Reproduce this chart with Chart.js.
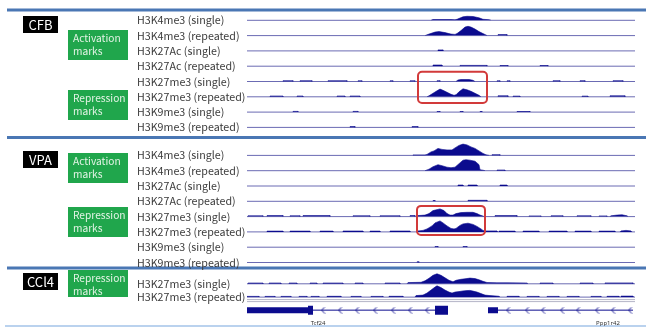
<!DOCTYPE html>
<html>
<head>
<meta charset="utf-8">
<script src="https://cdn.jsdelivr.net/npm/chart.js@4.4.1/dist/chart.umd.min.js"></script>
<style>
  html, body { margin: 0; padding: 0; background: #fff; }
  canvas { display: block; }
</style>
</head>
<body>
<canvas id="tracks" width="646" height="327"></canvas>
<script>
// Signal tracks, genomic position in kb (0-194).
// [x, h] = profile vertex, [start, end, h] = short flat block
const cfbK4Single = [[92,0],[93,0.8],[102,0.8],[104,0.5],[105,1],[108,3.5],[110,4],[113,3.8],[116,2.5],[118,1],[121,0.6],[122,0]];
const cfbK4Repeated = [[89,0],[91,1.5],[94,3.5],[96,4],[99,3],[102,1.5],[104,1.2],[105,2],[107,5],[109,8.5],[110.5,9.3],[112,8.5],[114,6.5],[116,4],[118,2],[119.5,0.6],[120,0],[125.5,130,1]];
const cfbK27acSingle = [[95.5,98,1]];
const cfbK27acRepeated = [[93,97.5,1.2],[106.5,120,0.8],[126.5,130.5,0.7],[146.5,150.5,0.7]];
const cfbK27me3Single = [[18,23,0.8],[26.5,32.5,0.8],[40.5,50,0.8],[55.5,57.5,0.7],[71.5,73,0.7],[81.5,84,0.7],[95,96.5,0.8],[104.5,0],[105.5,1.5],[107,2],[111,2],[113,1.2],[114,0],[125,126.5,0.7],[130,131.5,0.7],[153,156.5,0.8],[166.5,169,0.8],[183,188,0.8]];
const cfbK27me3Repeated = [[11.5,18,0.8],[25,28,0.8],[45,49,0.8],[51.5,56.5,0.8],[90,0],[91,1],[93,3.5],[95,6],[96.5,7.7],[98,6.5],[100,4.5],[102,2.5],[103.5,1.5],[104.5,2],[106,5],[108,8],[110,7],[112,5.5],[114,3.5],[116,1.5],[117,0],[125.5,130.5,1],[133,136.5,0.7],[167.5,170.5,0.7],[181.5,189,1]];
const cfbK9Single = [[23,25.5,0.7],[53,55.5,0.7],[95,96.5,0.6],[106.5,108,0.6],[116.5,117.5,0.6],[135,141.5,0.6]];
const cfbK9Repeated = [[51.5,54,0.8],[82.5,85.5,0.8]];

const vpaK4Single = [[83,0],[83,0.5],[89,0.5],[90,1],[92,3.5],[93.5,4.5],[95.5,7],[97.5,6],[100,5.5],[102.5,5.5],[104,7.5],[106,10],[108,11.3],[110,10.5],[112,8.5],[114,7],[116,4.5],[118,2],[119.5,0.6],[121,0],[122.5,126.5,0.7]];
const vpaK4Repeated = [[89,0],[91,1.5],[93,4],[95.5,6],[97.5,5],[100,3.5],[102,3],[104,3.5],[106,7],[108,10.5],[109.5,11],[111.5,10.5],[114,9.5],[116,6],[116.5,1],[118,0.5],[119,0],[125,129,0.7]];
const vpaK27acSingle = [[105.5,108,1],[110.5,115,1],[126.5,130,1]];
const vpaK27acRepeated = [[93,94,0.8],[110.5,120,1]];
const vpaK27me3Single = [[0.5,8,0.8],[10,18,1],[21.5,26.5,0.8],[28,41.5,1],[53,61.5,0.8],[66.5,76.5,0.8],[81.5,84,1],[85,0],[85.5,1],[89,1.5],[91,3],[93,6],[96.5,7.7],[98.5,6],[100,3],[101.5,1.5],[103,1.5],[104.5,3],[107,4],[110,4.3],[113,4.3],[115,3],[116.5,1.5],[118,0.5],[118.5,0],[124,135,1],[141,147,0.7],[152,158,0.8],[165,172,0.8],[176,180,0.7],[181.5,0],[182,0.8],[185,1.5],[187.5,1.8],[190,0.8],[190.5,0]];
const vpaK27me3Repeated = [[10,18,0.8],[21.5,31.5,0.8],[36.5,43,0.8],[48,58,0.9],[61.5,66.5,0.8],[71.5,81.5,0.9],[85,0],[85.5,1],[88,1.5],[90,3],[92.5,6],[94,9],[96.5,11],[98,9],[100,6],[102,3.5],[103.5,3],[104.5,3.5],[106.5,6.5],[108,8],[110.5,8.7],[113,7.5],[115,5.5],[117,3],[118,1.5],[119,1],[125,1],[125.5,0],[126,134,0.8],[138,146,0.8],[151,160,0.8],[164,172,0.8],[176,184,0.8],[186.5,0],[187,1],[189.5,1.5],[192,1],[192.5,0]];
const vpaK9Single = [[94,95.5,0.7],[108,110,0.7]];
const vpaK9Repeated = [[85,86,0.7]];

const cclK27me3Single = [[0.5,8,0.8],[11,17,0.8],[21,25,0.8],[31.5,35,0.8],[38,48,0.8],[54,58,0.8],[69,76.5,0.8],[80,0],[80.5,1.2],[87,1.5],[89,3],[91,5.5],[93,8.5],[95,10],[97,8.5],[99,6],[101,3.5],[103,2],[104.5,3.5],[107,4.5],[109,5],[111.5,5.7],[114,5.2],[116,4],[118,2.5],[120,1.3],[125,1],[130,1],[140,0.8],[140.5,0],[146.5,153,0.8],[166.5,173,0.8],[179,193,0.9]];
const cclK27me3Repeated = [[0,6,0.7],[9,14,0.7],[17,22,0.7],[26,30,0.7],[32,36,0.7],[40,47,0.8],[52,57,0.7],[62,68,0.7],[71,78,0.8],[84,0],[84.5,1.5],[88,2],[90,4],[92,7],[94,10],[95,11.3],[97,9.5],[99,7],[101,5],[102.5,4],[104,5],[106,5.5],[108,6.2],[110,6.5],[111.5,6.7],[113,6],[115,5],[117,3.5],[119,2],[121.5,1.5],[124,1.2],[126,0.8],[126.5,0],[130,136,0.8],[140,146,0.7],[150,156,0.7],[160,166,0.7],[172,177,0.7],[180,186,0.8],[187,193,1]];

// gene models
const geneNames = ['Tcf24', 'Ppp1r42'];
const geneSpans = [[0, 100.5], [120.5, 193]];
const geneLabelX = [35.5, 180.5];
const utrExons = [[0, 30.5], [120.5, 125.5]];
const cdsExons = [[30.5, 33], [94, 100.5]];
const strandMarks = [38, 46.5, 55, 64, 73, 81.5, 90, 130.5, 140, 148, 157.5, 165.5, 175, 183, 191.5];

// labels
const conditions = ['CFB', 'VPA', 'CCl4'];
const markLabels = ['H3K4me3 (single)', 'H3K4me3 (repeated)', 'H3K27Ac (single)', 'H3K27Ac (repeated)',
  'H3K27me3 (single)', 'H3K27me3 (repeated)', 'H3K9me3 (single)', 'H3K9me3 (repeated)'];
const cclLabels = ['H3K27me3 (single)', 'H3K27me3 (repeated)'];
const highlightX = [[85.5, 120], [85, 119]];

const navy = '#0b0b8e';
const rowH = 15.3;

const cfbTracks = [cfbK4Single, cfbK4Repeated, cfbK27acSingle, cfbK27acRepeated, cfbK27me3Single, cfbK27me3Repeated, cfbK9Single, cfbK9Repeated];
const vpaTracks = [vpaK4Single, vpaK4Repeated, vpaK27acSingle, vpaK27acRepeated, vpaK27me3Single, vpaK27me3Repeated, vpaK9Single, vpaK9Repeated];
const cclTracks = [cclK27me3Single, cclK27me3Repeated];

function toPoints(track) {
  const pts = [];
  track.forEach(d => {
    if (d.length === 3) {
      pts.push({x: d[0], y: 0}, {x: d[0], y: d[2]}, {x: d[1], y: d[2]}, {x: d[1], y: 0});
    } else {
      pts.push({x: d[0], y: d[1]});
    }
  });
  return pts.sort((a, b) => a.x - b.x);
}

// stacked, hidden y axes: one per row, top to bottom
const scales = { x: { type: 'linear', min: 0, max: 194, display: false } };
let order = 0;
function addRow(id, span, min = 0) {
  scales[id] = { type: 'linear', position: 'right', stack: 'rows', stackWeight: span,
    weight: order++, min: min, max: min + span, display: false };
}

const datasets = [];
const trackRows = []; // {id, label}
function addTracks(prefix, tracks, labels, span) {
  tracks.forEach((t, i) => {
    const id = prefix + i;
    addRow(id, span);
    trackRows.push({ id, label: labels[i] });
    datasets.push({
      data: toPoints(t), yAxisID: id, fill: 'origin',
      backgroundColor: navy, borderColor: navy, borderWidth: 0.6, pointRadius: 0, tension: 0,
      segment: { borderColor: c => (c.p0.parsed.y === 0 && c.p1.parsed.y === 0) ? 'rgba(0,0,0,0)' : navy }
    });
  });
}

addTracks('cfb', cfbTracks, markLabels, rowH);
addRow('gapA', 12.7);
addTracks('vpa', vpaTracks, markLabels, rowH);
addRow('gapB', 8.3);
addTracks('ccl', cclTracks.slice(0, 1), cclLabels, 13);
addTracks('cclb', cclTracks.slice(1), cclLabels.slice(1), 13.3);
addRow('gapC', 5.4);
addRow('gene', 15.3, -7.65);

// gene model datasets
utrExons.concat(cdsExons).forEach((e, i) => {
  datasets.push({ data: [{x: e[0], y: 0}, {x: e[1], y: 0}], yAxisID: 'gene', borderColor: navy,
    borderWidth: i < utrExons.length ? 6 : 9, borderCapStyle: 'butt', pointRadius: 0 });
});
geneSpans.forEach(g => {
  datasets.push({ data: [{x: g[0], y: 0}, {x: g[1], y: 0}], yAxisID: 'gene', borderColor: navy,
    borderWidth: 1, pointRadius: 0 });
});
const chevron = document.createElement('canvas');
chevron.width = 5; chevron.height = 7;
const cc = chevron.getContext('2d');
cc.strokeStyle = navy; cc.lineWidth = 1;
cc.beginPath(); cc.moveTo(4, 0.5); cc.lineTo(1.2, 3.5); cc.lineTo(4, 6.5); cc.stroke();
datasets.push({ data: strandMarks.map(x => ({x, y: 0})), yAxisID: 'gene', showLine: false,
  pointStyle: chevron, pointRadius: 3 });

function roundRect(ctx, x, y, w, h, r) {
  ctx.beginPath();
  ctx.moveTo(x + r, y);
  ctx.arcTo(x + w, y, x + w, y + h, r);
  ctx.arcTo(x + w, y + h, x, y + h, r);
  ctx.arcTo(x, y + h, x, y, r);
  ctx.arcTo(x, y, x + w, y, r);
  ctx.closePath();
}

const decor = {
  id: 'decor',
  beforeDatasetsDraw(chart) {
    const { ctx, chartArea: a, scales: s } = chart;
    ctx.save();
    ctx.strokeStyle = '#6b6bb3';
    ctx.lineWidth = 1;
    trackRows.forEach(r => {
      const y = s[r.id].getPixelForValue(0);
      ctx.beginPath(); ctx.moveTo(a.left, y); ctx.lineTo(a.right, y); ctx.stroke();
    });
    // double rule above the gene track
    ctx.strokeStyle = '#a0a0b8';
    ctx.lineWidth = 0.8;
    [2.5, 4.5].forEach(d => {
      const y = s.gapC.top + d;
      ctx.beginPath(); ctx.moveTo(a.left, y); ctx.lineTo(a.right, y); ctx.stroke();
    });
    ctx.restore();
  },
  afterDatasetsDraw(chart) {
    const { ctx, scales: s } = chart;
    ctx.save();
    // panel separators
    ctx.strokeStyle = '#4a77b4';
    ctx.lineWidth = 3;
    [10, 137.5, 268].forEach(y => {
      ctx.beginPath(); ctx.moveTo(7, y); ctx.lineTo(646, y); ctx.stroke();
    });
    ctx.strokeStyle = '#a3c3e8';
    ctx.lineWidth = 1.5;
    ctx.beginPath(); ctx.moveTo(5, 326); ctx.lineTo(646, 326); ctx.stroke();

    // highlight boxes around H3K27me3 peaks
    ctx.strokeStyle = '#d23a3a';
    ctx.lineWidth = 2;
    [['cfb4', 'cfb5', 9.7, 6.2], ['vpa4', 'vpa5', 10.7, 3]].forEach((h, i) => {
      const x0 = s.x.getPixelForValue(highlightX[i][0]);
      const x1 = s.x.getPixelForValue(highlightX[i][1]);
      const y0 = s[h[0]].getPixelForValue(0) - h[2];
      const y1 = s[h[1]].getPixelForValue(0) + h[3];
      roundRect(ctx, x0, y0, x1 - x0, y1 - y0, 4);
      ctx.stroke();
    });

    // track labels
    ctx.fillStyle = '#3a3a3a';
    ctx.font = '10.7px "Noto Sans CJK JP", "Noto Sans", sans-serif';
    ctx.textBaseline = 'middle';
    ctx.textAlign = 'left';
    trackRows.forEach(r => {
      ctx.fillText(r.label, 137, s[r.id].getPixelForValue(0));
    });

    // condition tags
    ctx.font = '13px "Noto Sans CJK JP", "Noto Sans", sans-serif';
    ctx.textAlign = 'center';
    [16, 151, 273].forEach((y, i) => {
      ctx.fillStyle = '#000';
      ctx.fillRect(23, y, 35, 17);
      ctx.fillStyle = '#fff';
      ctx.fillText(conditions[i], 40.5, y + 9);
    });

    // mark group tags
    ctx.font = '10.2px "Noto Sans CJK JP", "Noto Sans", sans-serif';
    ctx.textAlign = 'left';
    [[30, 'Activation'], [90, 'Repression'], [153, 'Activation'], [207, 'Repression'], [270, 'Repression']].forEach(g => {
      ctx.fillStyle = '#20a64c';
      ctx.fillRect(68, g[0], 60, g[0] === 270 ? 27 : 30);
      ctx.fillStyle = '#e4f4e6';
      ctx.fillText(g[1], 73, g[0] + 8.5);
      ctx.fillText('marks', 73, g[0] + 21.5);
    });

    // gene names
    ctx.fillStyle = '#333';
    ctx.font = '6px "Noto Sans", sans-serif';
    ctx.textAlign = 'center';
    geneNames.forEach((n, i) => {
      ctx.fillText(n, s.x.getPixelForValue(geneLabelX[i]), 323.5);
    });
    ctx.restore();
  }
};

document.addEventListener('DOMContentLoaded', () => {
  new Chart(document.getElementById('tracks'), {
    type: 'line',
    data: { datasets },
    options: {
      responsive: false,
      devicePixelRatio: 1,
      animation: false,
      events: [],
      layout: { padding: { left: 247, right: 11, top: 5, bottom: 9.2 } },
      scales,
      plugins: { legend: { display: false }, tooltip: { enabled: false } }
    },
    plugins: [decor]
  });
});
</script>
</body>
</html>
